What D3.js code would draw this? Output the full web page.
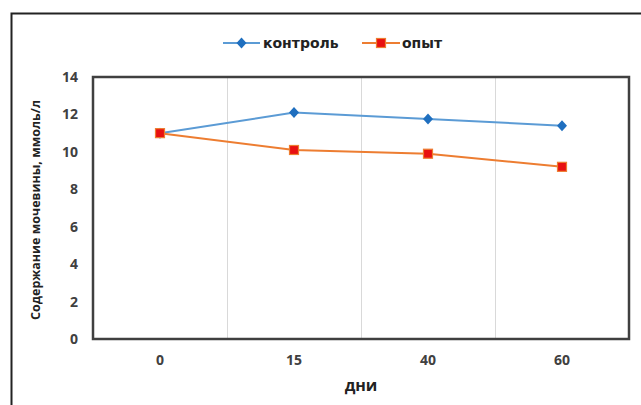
<!DOCTYPE html>
<html><head><meta charset="utf-8">
<script src="https://cdn.jsdelivr.net/npm/d3@7"></script>
<style>body{margin:0;background:#fff}svg{display:block}</style>
</head><body>
<script>
const categories = ["0", "15", "40", "60"];
const control = [11, 12.1, 11.75, 11.4];
const experiment = [11, 10.1, 9.9, 9.2];
const yTicks = [0, 2, 4, 6, 8, 10, 12, 14];
const seriesNames = ["контроль", "опыт"];
const yTitle = "Содержание мочевины, ммоль/л";
const xTitle = "дни";

const W = 641, H = 405;
const m = {left: 93, top: 77, right: 629, bottom: 339};
const svg = d3.select("body").append("svg").attr("width", W).attr("height", H);
const font = "'Open Sans', 'Noto Sans', sans-serif";
const lfont = "'DejaVu Sans', sans-serif";
const txt = "#404040";

// outer border (left and top only visible)
svg.append("path").attr("d", `M11.5,${H} V13.5 H${W}`).attr("fill","none").attr("stroke","#222").attr("stroke-width",2);

const x = d3.scaleBand().domain(categories).range([m.left, m.right]);
const y = d3.scaleLinear().domain([0, 14]).range([m.bottom, m.top]);

// vertical gridlines at band boundaries
const g = svg.append("g");
g.selectAll("line.grid").data(categories.slice(1)).enter().append("line")
  .attr("x1", d => Math.round(x(d)) + 0.5).attr("x2", d => Math.round(x(d)) + 0.5)
  .attr("y1", m.top).attr("y2", m.bottom).attr("stroke", "#d9d9d9").attr("stroke-width", 1);

// plot border
svg.append("rect").attr("x", m.left).attr("y", m.top).attr("width", m.right - m.left).attr("height", m.bottom - m.top)
  .attr("fill", "none").attr("stroke", "#404040").attr("stroke-width", 2.5);

// y axis labels
const ya = d3.axisLeft(y).tickValues(yTicks).tickSize(0).tickPadding(15);
const yg = svg.append("g").attr("transform", `translate(${m.left},0)`).call(ya);
yg.select(".domain").remove();
yg.selectAll("text").attr("font-family", font).attr("font-size", 14).attr("font-weight", "bold").attr("fill", txt);

// x axis labels
const xa = d3.axisBottom(x).tickSize(0).tickPadding(16);
const xg = svg.append("g").attr("transform", `translate(0,${m.bottom})`).call(xa);
xg.select(".domain").remove();
xg.selectAll("text").attr("font-family", font).attr("font-size", 14).attr("font-weight", "bold").attr("fill", txt);

// titles
svg.append("text").attr("x", (m.left + m.right) / 2).attr("y", 391).attr("text-anchor", "middle")
  .attr("font-family", font).attr("font-size", 16).attr("font-weight", "bold").attr("fill", "#222").text(xTitle);
svg.append("text").attr("transform", `translate(40,${(m.top + m.bottom) / 2 + 2}) rotate(-90)`).attr("text-anchor", "middle")
  .attr("font-family", font).attr("font-size", 12.5).attr("font-weight", "bold").attr("fill", "#222").text(yTitle);

const cx = d => x(d) + x.bandwidth() / 2;
const line = d3.line().x((d, i) => cx(categories[i])).y(d => y(d));

const blueLine = "#5b9bd5", blueMark = "#1f6fbf";
const orangeLine = "#ed7d31", redMark = "#e81010";

svg.append("path").datum(control).attr("d", line).attr("fill", "none").attr("stroke", blueLine).attr("stroke-width", 2);
svg.append("path").datum(experiment).attr("d", line).attr("fill", "none").attr("stroke", orangeLine).attr("stroke-width", 2);

const diamond = "M0,-5.5L5,0L0,5.5L-5,0Z";
svg.selectAll("path.dm").data(control).enter().append("path")
  .attr("transform", (d, i) => `translate(${cx(categories[i])},${y(d)})`)
  .attr("d", diamond).attr("fill", blueMark);
svg.selectAll("rect.sq").data(experiment).enter().append("rect")
  .attr("x", (d, i) => cx(categories[i]) - 4.5).attr("y", d => y(d) - 4.5)
  .attr("width", 9).attr("height", 9).attr("fill", redMark).attr("stroke", orangeLine).attr("stroke-width", 1.2);

// legend
const lg = svg.append("g");
lg.append("line").attr("x1", 223).attr("x2", 260).attr("y1", 43).attr("y2", 43).attr("stroke", blueLine).attr("stroke-width", 2);
lg.append("path").attr("transform", "translate(241.5,43)").attr("d", diamond).attr("fill", blueMark);
lg.append("text").attr("x", 263).attr("y", 48).attr("font-family", lfont).attr("font-size", 14).attr("font-weight", "bold").attr("fill", "#222").text(seriesNames[0]);
lg.append("line").attr("x1", 362).attr("x2", 400).attr("y1", 43).attr("y2", 43).attr("stroke", orangeLine).attr("stroke-width", 2);
lg.append("rect").attr("x", 376.5).attr("y", 38.5).attr("width", 9).attr("height", 9).attr("fill", redMark).attr("stroke", orangeLine).attr("stroke-width", 1.2);
lg.append("text").attr("x", 402).attr("y", 48).attr("font-family", lfont).attr("font-size", 14).attr("font-weight", "bold").attr("fill", "#222").text(seriesNames[1]);
</script>
</body></html>
